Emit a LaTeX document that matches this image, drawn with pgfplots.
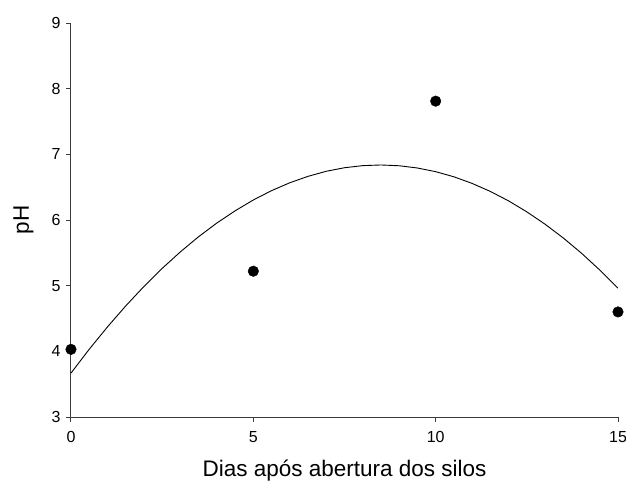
\documentclass[border=0pt]{standalone}
\usepackage{pgfplots}
\pgfplotsset{compat=1.18}
\usepackage{fontspec}
\setmainfont{Liberation Sans}
\definecolor{axgray}{RGB}{60,60,60}
\begin{document}
\begin{tikzpicture}
\begin{axis}[
  at={(0pt,0pt)}, anchor=south west,
  scale only axis, width=547pt, height=394pt,
  xmin=0, xmax=15, ymin=3, ymax=9,
  axis lines=left, axis line style={-, axgray, line width=1pt},
  xtick={0,5,10,15}, ytick={3,4,5,6,7,8,9},
  tick style={axgray, line width=1pt},
  tick align=outside, major tick length=5pt,
  tick label style={font=\fontsize{16}{18}\selectfont},
  /pgf/number format/assume math mode=true,
  xticklabel style={yshift=-6pt},
  yticklabel style={xshift=-2pt},
  xlabel={Dias após abertura dos silos},
  ylabel={pH},
  label style={font=\fontsize{22.5}{26}\selectfont},
  xlabel style={at={(axis description cs:0.5,0)}, anchor=south, yshift=-68pt},
  ylabel style={at={(axis description cs:-0.0868,0.5)}, anchor=center},
  clip=false,
]
\addplot[black, line width=0.9pt] coordinates {
(0,3.669)(0.5,4.032)(1,4.372)(1.5,4.691)(2,4.988)(2.5,5.263)(3,5.515)(3.5,5.746)
(4,5.954)(4.5,6.140)(5,6.305)(5.5,6.447)(6,6.567)(6.5,6.665)(7,6.742)(7.5,6.796)
(8,6.828)(8.5,6.838)(9,6.826)(9.5,6.792)(10,6.736)(10.5,6.658)(11,6.557)(11.5,6.435)
(12,6.291)(12.5,6.124)(13,5.936)(13.5,5.726)(14,5.494)(14.5,5.238)(15,4.962)};
\addplot[only marks, mark=*, mark size=5.3pt, black] coordinates {
(0,4.03)(5,5.22)(10,7.81)(15,4.60)};
\end{axis}
\pgfresetboundingbox
\useasboundingbox (-71pt,-68pt) rectangle (555pt,417pt);
\end{tikzpicture}
\end{document}
